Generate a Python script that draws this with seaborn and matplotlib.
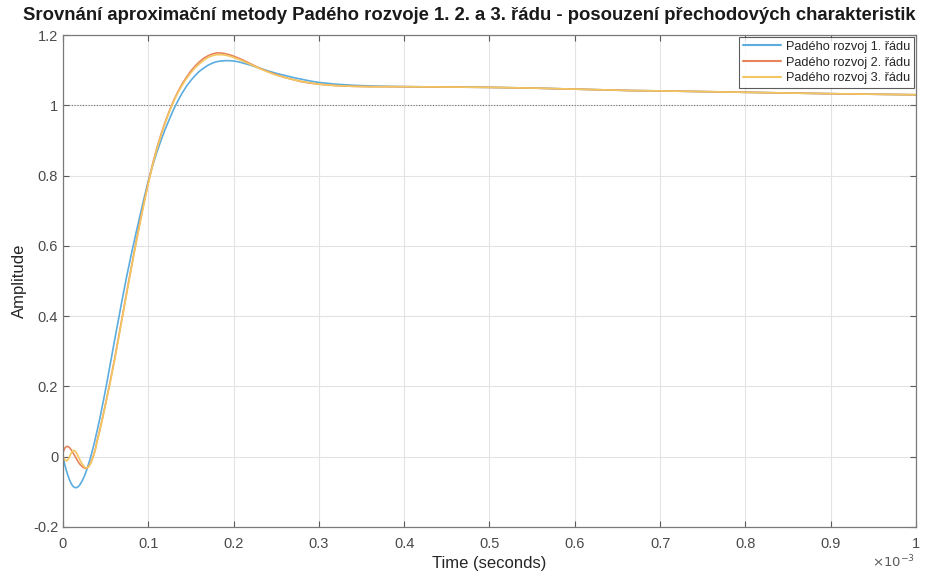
import numpy as np
import pandas as pd
import matplotlib
matplotlib.use("Agg")
import matplotlib.pyplot as plt
import seaborn as sns
from matplotlib.ticker import FuncFormatter

# ---- data (time in units of 1e-3 s) ----
t1 = [0.000, 0.002, 0.004, 0.006, 0.008, 0.010, 0.012, 0.014, 0.016, 0.018, 0.020,
      0.022, 0.025, 0.028, 0.031, 0.034, 0.037, 0.040, 0.043, 0.047, 0.051, 0.055,
      0.060, 0.065, 0.070, 0.075, 0.080, 0.085, 0.090, 0.095, 0.100, 0.105, 0.110,
      0.115, 0.120, 0.125, 0.130, 0.135, 0.140, 0.145, 0.150, 0.155, 0.160, 0.165,
      0.170, 0.175, 0.180, 0.185, 0.190, 0.195, 0.200, 0.205, 0.210, 0.220, 0.230,
      0.240, 0.250, 0.260, 0.270, 0.280, 0.290, 0.300, 0.320, 0.340, 0.360, 0.380,
      0.400, 0.450, 0.500, 0.550, 0.600, 0.665, 0.700, 0.800, 0.900, 1.000]
y1 = [0.000, -0.022, -0.040, -0.055, -0.068, -0.078, -0.085, -0.088, -0.088, -0.085, -0.079,
      -0.071, -0.056, -0.036, -0.013, 0.013, 0.042, 0.074, 0.107, 0.155, 0.205, 0.258,
      0.325, 0.390, 0.455, 0.517, 0.575, 0.630, 0.683, 0.735, 0.785, 0.828, 0.866,
      0.901, 0.933, 0.962, 0.990, 1.014, 1.036, 1.055, 1.071, 1.085, 1.097, 1.106,
      1.114, 1.120, 1.124, 1.126, 1.127, 1.127, 1.126, 1.124, 1.121, 1.114, 1.106,
      1.098, 1.091, 1.085, 1.079, 1.074, 1.069, 1.065, 1.060, 1.057, 1.055, 1.054,
      1.053, 1.052, 1.051, 1.049, 1.046, 1.042, 1.041, 1.037, 1.033, 1.030]

t2 = [0.000, 0.002, 0.004, 0.006, 0.008, 0.010, 0.012, 0.014, 0.016, 0.018, 0.020,
      0.022, 0.024, 0.026, 0.028, 0.030, 0.032, 0.034, 0.036, 0.038, 0.040, 0.043,
      0.046, 0.050, 0.055, 0.060, 0.065, 0.070, 0.075, 0.080, 0.085, 0.090, 0.095,
      0.100, 0.105, 0.110, 0.115, 0.120, 0.125, 0.130, 0.135, 0.140, 0.145, 0.150,
      0.155, 0.160, 0.165, 0.170, 0.175, 0.180, 0.185, 0.190, 0.195, 0.200, 0.210,
      0.220, 0.230, 0.240, 0.250, 0.260, 0.270, 0.280, 0.290, 0.300, 0.320, 0.340,
      0.360, 0.380, 0.400, 0.450, 0.500, 0.550, 0.600, 0.665, 0.700, 0.800, 0.900, 1.000]
y2 = [0.012, 0.024, 0.029, 0.029, 0.025, 0.018, 0.010, 0.002, -0.007, -0.015, -0.022,
      -0.027, -0.031, -0.033, -0.032, -0.028, -0.020, -0.009, 0.005, 0.022, 0.045, 0.075,
      0.107, 0.152, 0.210, 0.272, 0.338, 0.405, 0.472, 0.538, 0.602, 0.664, 0.724,
      0.780, 0.832, 0.878, 0.918, 0.954, 0.986, 1.015, 1.040, 1.062, 1.081, 1.098,
      1.112, 1.124, 1.134, 1.141, 1.146, 1.149, 1.149, 1.147, 1.144, 1.140, 1.130,
      1.118, 1.106, 1.096, 1.087, 1.079, 1.073, 1.067, 1.063, 1.060, 1.056, 1.054,
      1.053, 1.053, 1.053, 1.052, 1.051, 1.049, 1.046, 1.042, 1.041, 1.037, 1.033, 1.030]

t3 = [0.000, 0.002, 0.004, 0.006, 0.008, 0.010, 0.012, 0.014, 0.016, 0.018, 0.020,
      0.022, 0.024, 0.026, 0.028, 0.030, 0.032, 0.034, 0.036, 0.038, 0.040, 0.043,
      0.046, 0.050, 0.055, 0.060, 0.065, 0.070, 0.075, 0.080, 0.085, 0.090, 0.095,
      0.100, 0.105, 0.110, 0.115, 0.120, 0.125, 0.130, 0.135, 0.140, 0.145, 0.150,
      0.155, 0.160, 0.165, 0.170, 0.175, 0.180, 0.185, 0.190, 0.195, 0.200, 0.210,
      0.220, 0.230, 0.240, 0.250, 0.260, 0.270, 0.280, 0.290, 0.300, 0.320, 0.340,
      0.360, 0.380, 0.400, 0.450, 0.500, 0.550, 0.600, 0.665, 0.700, 0.800, 0.900, 1.000]
y3 = [0.000, -0.008, -0.012, -0.008, 0.002, 0.012, 0.018, 0.017, 0.010, 0.000, -0.010,
      -0.019, -0.026, -0.031, -0.032, -0.028, -0.021, -0.010, 0.004, 0.021, 0.043, 0.073,
      0.105, 0.150, 0.207, 0.269, 0.335, 0.402, 0.469, 0.535, 0.599, 0.661, 0.721,
      0.777, 0.829, 0.875, 0.915, 0.951, 0.983, 1.012, 1.037, 1.058, 1.077, 1.093,
      1.107, 1.118, 1.128, 1.136, 1.141, 1.144, 1.144, 1.143, 1.140, 1.136, 1.127,
      1.116, 1.105, 1.095, 1.086, 1.079, 1.073, 1.068, 1.064, 1.060, 1.056, 1.054,
      1.053, 1.053, 1.053, 1.052, 1.051, 1.049, 1.046, 1.042, 1.041, 1.037, 1.033, 1.030]

labels = ["Padého rozvoj 1. řádu", "Padého rozvoj 2. řádu", "Padého rozvoj 3. řádu"]
x_ticks = [0, 0.1, 0.2, 0.3, 0.4, 0.5, 0.6, 0.7, 0.8, 0.9, 1.0]
y_ticks = [-0.2, 0, 0.2, 0.4, 0.6, 0.8, 1.0, 1.2]

df = pd.concat([
    pd.DataFrame({"t": t1, "y": y1, "s": labels[0]}),
    pd.DataFrame({"t": t2, "y": y2, "s": labels[1]}),
    pd.DataFrame({"t": t3, "y": y3, "s": labels[2]}),
], ignore_index=True)

sns.set_style("white")
plt.rcParams["font.family"] = ["Liberation Sans", "DejaVu Sans"]
plt.rcParams["axes.unicode_minus"] = False

fig = plt.figure(figsize=(9.36, 5.74), dpi=100)
ax = fig.add_axes([0.0673, 0.0819, 0.9113, 0.8571])

palette = {labels[0]: "#5BACDF", labels[1]: "#E8845C", labels[2]: "#F2C660"}
sns.lineplot(data=df, x="t", y="y", hue="s", palette=palette, estimator=None,
             sort=False, linewidth=1.2, ax=ax)

ax.axhline(1.0, color="#777777", linestyle=(0, (1, 1.5)), linewidth=0.8, zorder=1)

ax.set_xlim(0, 1)
ax.set_ylim(-0.2, 1.2)
ax.set_xticks(x_ticks)
ax.set_yticks(y_ticks)
fmt = FuncFormatter(lambda v, p: "%g" % round(v, 3))
ax.xaxis.set_major_formatter(fmt)
ax.yaxis.set_major_formatter(fmt)
ax.grid(True, color="#E3E3E3", linewidth=0.8)
ax.set_axisbelow(True)
ax.tick_params(direction="in", length=4, width=0.8, colors="#5a5a5a",
               labelcolor="#4a4a4a", labelsize=10.5, top=True, right=True,
               bottom=True, left=True)
ax.tick_params(axis="x", pad=7)
for sp in ax.spines.values():
    sp.set_color("#7a7a7a")
    sp.set_linewidth(0.9)

ax.set_xlabel("Time (seconds)", fontsize=12, color="#262626", labelpad=4)
ax.set_ylabel("Amplitude", fontsize=12, color="#262626", labelpad=4)
fig.text(0.501, 0.988,
         "Srovnání aproximační metody Padého rozvoje 1. 2. a 3. řádu - posouzení přechodových charakteristik",
         ha="center", va="top", fontsize=13.3, fontweight="bold", color="#1a1a1a")

fig.text(0.978, 0.006, r"$\times10^{-3}$", ha="right", va="bottom",
         fontsize=9.5, color="#5a5a5a")

leg = ax.legend(loc="upper right", fontsize=9.2, frameon=True, fancybox=False,
                borderaxespad=0.15, handlelength=3.0, handletextpad=0.4,
                labelspacing=0.3, borderpad=0.3)
leg.get_frame().set_edgecolor("#333333")
leg.get_frame().set_linewidth(0.8)
for line in leg.get_lines():
    line.set_linewidth(1.5)

fig.savefig("out.png", dpi=100)
